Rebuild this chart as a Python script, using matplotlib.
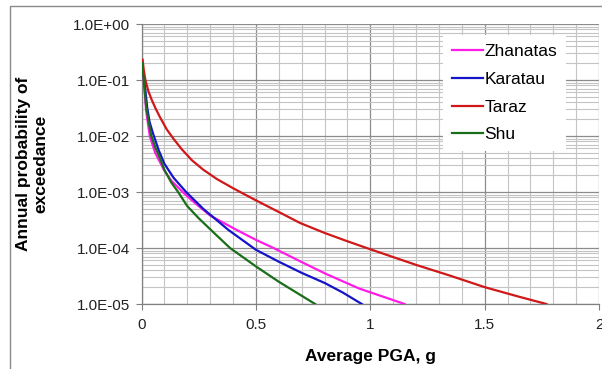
import matplotlib
matplotlib.use("Agg")
import matplotlib.pyplot as plt
from matplotlib.patches import Rectangle
from matplotlib.ticker import MultipleLocator, LogLocator, NullFormatter, FixedLocator

plt.rcParams['font.family'] = ['Liberation Sans', 'DejaVu Sans']

# data (PGA in g, annual probability of exceedance)
zhanatas_x = [0.003, 0.006, 0.01, 0.02, 0.036, 0.06, 0.1, 0.13, 0.18, 0.22, 0.3,
              0.416, 0.5, 0.577, 0.693, 0.803, 0.95, 1.15]
zhanatas_y = [0.2, 0.14, 0.1, 2.9e-2, 1.0e-2, 5.0e-3, 2.4e-3, 1.6e-3, 1.0e-3, 7.1e-4, 3.8e-4,
              2.1e-4, 1.4e-4, 1.0e-4, 5.8e-5, 3.5e-5, 1.9e-5, 1.0e-5]

karatau_x = [0.003, 0.006, 0.012, 0.025, 0.035, 0.05, 0.075, 0.1, 0.14, 0.195, 0.27,
             0.38, 0.5, 0.6, 0.7, 0.803, 0.88, 0.963]
karatau_y = [0.2, 0.14, 0.1, 3.2e-2, 1.8e-2, 1.12e-2, 5.6e-3, 3.2e-3, 1.8e-3, 1.0e-3, 5.0e-4,
             2.1e-4, 9.3e-5, 5.7e-5, 3.6e-5, 2.35e-5, 1.6e-5, 1.0e-5]

taraz_x = [0.005, 0.01, 0.017, 0.03, 0.045, 0.06, 0.08, 0.11, 0.14, 0.176, 0.22, 0.27,
           0.33, 0.4, 0.5, 0.6, 0.693, 0.8, 0.9, 1.0, 1.2, 1.35, 1.5, 1.65, 1.77]
taraz_y = [0.23, 0.15, 0.1, 6.3e-2, 4.4e-2, 3.2e-2, 2.2e-2, 1.32e-2, 8.9e-3, 5.8e-3, 3.7e-3, 2.5e-3,
           1.7e-3, 1.17e-3, 7.1e-4, 4.4e-4, 2.8e-4, 1.86e-4, 1.32e-4, 9.5e-5, 5.0e-5, 3.2e-5,
           2.0e-5, 1.35e-5, 1.0e-5]

shu_x = [0.003, 0.006, 0.01, 0.02, 0.03, 0.043, 0.06, 0.081, 0.1, 0.13, 0.16, 0.2,
         0.25, 0.322, 0.387, 0.5, 0.6, 0.759]
shu_y = [0.2, 0.14, 0.1, 3.5e-2, 1.9e-2, 1.0e-2, 6.3e-3, 4.0e-3, 2.5e-3, 1.48e-3, 1.0e-3, 5.6e-4,
         3.4e-4, 1.78e-4, 1.0e-4, 4.7e-5, 2.5e-5, 1.0e-5]

y_ticks = [1e-5, 1e-4, 1e-3, 1e-2, 1e-1, 1e0]
y_labels = ['1.0E-05', '1.0E-04', '1.0E-03', '1.0E-02', '1.0E-01', '1.0E+00']
x_ticks = [0, 0.5, 1, 1.5, 2]
x_labels = ['0', '0.5', '1', '1.5', '2']

fig = plt.figure(figsize=(6.02, 3.69), dpi=100)
ax = fig.add_axes([141.5 / 602, 1 - 304 / 369, 457.5 / 602, 280 / 369])

ax.plot(zhanatas_x, zhanatas_y, color='#FF1CE8', lw=1.6, label='Zhanatas', zorder=3)
ax.plot(karatau_x, karatau_y, color='#1414C8', lw=1.6, label='Karatau', zorder=3)
ax.plot(taraz_x, taraz_y, color='#D01818', lw=1.6, label='Taraz', zorder=3)
ax.plot(shu_x, shu_y, color='#1A6E1A', lw=1.6, label='Shu', zorder=3)

ax.set_yscale('log')
ax.set_xlim(0, 2)
ax.set_ylim(1e-5, 1)

ax.yaxis.set_major_locator(FixedLocator(y_ticks))
ax.set_yticklabels(y_labels)
ax.yaxis.set_minor_locator(LogLocator(base=10, subs=range(2, 10), numticks=20))
ax.yaxis.set_minor_formatter(NullFormatter())
ax.set_xticks(x_ticks)
ax.set_xticklabels(x_labels)
ax.xaxis.set_minor_locator(MultipleLocator(0.1))

ax.grid(True, which='major', color='#8c8c8c', lw=0.9)
ax.grid(True, which='minor', color='#c4c4c4', lw=0.8)
ax.set_axisbelow(True)

for s in ['top', 'right']:
    ax.spines[s].set_visible(False)
for s in ['left', 'bottom']:
    ax.spines[s].set_color('#808080')
    ax.spines[s].set_linewidth(0.9)

ax.tick_params(which='major', length=4, color='#808080', labelsize=11, labelcolor='#222222')
ax.tick_params(axis='y', which='major', pad=4)
ax.tick_params(axis='x', which='major', pad=6)
ax.tick_params(which='minor', length=0)

ax.set_xlabel('Average PGA, g', fontsize=12.5, fontweight='bold', labelpad=12)
ax.set_ylabel('Annual probability of\nexceedance', fontsize=12.5, fontweight='bold',
              labelpad=18, linespacing=1.15)

leg = ax.legend(loc='upper left', bbox_to_anchor=(0.64, 0.99), fontsize=12.5,
                frameon=True, fancybox=False, framealpha=1, edgecolor='none',
                facecolor='white', handlelength=1.8, handletextpad=0.1,
                labelspacing=0.72, borderpad=0.5)

# outer chart border
fig.patches.append(Rectangle((10 / 602, -0.1), 1.2, 1 - 6 / 369 + 0.1, transform=fig.transFigure,
                             fill=False, edgecolor='#8a8a8a', lw=1.0, clip_on=False))

fig.savefig('out.png', dpi=100)
